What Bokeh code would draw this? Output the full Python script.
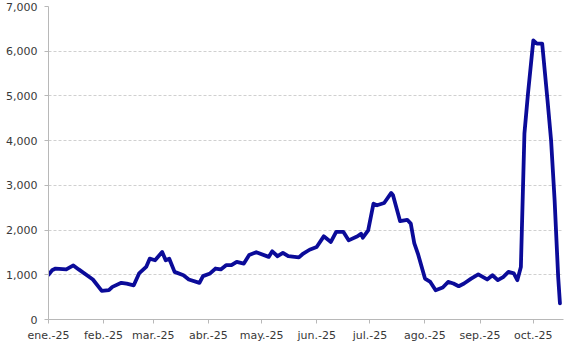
import pandas as pd
from bokeh.plotting import figure
from bokeh.models import FixedTicker, Range1d, NumeralTickFormatter
from bokeh.embed import file_html
from bokeh.resources import INLINE

dates = [
    "2025-01-01", "2025-01-03", "2025-01-05", "2025-01-11", "2025-01-15", "2025-01-18",
    "2025-01-26", "2025-01-31", "2025-02-04", "2025-02-06", "2025-02-11", "2025-02-14",
    "2025-02-18", "2025-02-21", "2025-02-25", "2025-02-27", "2025-03-02", "2025-03-06",
    "2025-03-08", "2025-03-10", "2025-03-13", "2025-03-18", "2025-03-21", "2025-03-27",
    "2025-03-29", "2025-04-02", "2025-04-05", "2025-04-08", "2025-04-11", "2025-04-14",
    "2025-04-17", "2025-04-21", "2025-04-24", "2025-04-28", "2025-05-05", "2025-05-07",
    "2025-05-10", "2025-05-13", "2025-05-16", "2025-05-22", "2025-05-24", "2025-05-28",
    "2025-06-01", "2025-06-05", "2025-06-09", "2025-06-12", "2025-06-16", "2025-06-19",
    "2025-06-24", "2025-06-26", "2025-06-27", "2025-06-30", "2025-07-03", "2025-07-05",
    "2025-07-09", "2025-07-13", "2025-07-14", "2025-07-18", "2025-07-22", "2025-07-24",
    "2025-07-26", "2025-07-28", "2025-08-01", "2025-08-04", "2025-08-07", "2025-08-11",
    "2025-08-14", "2025-08-17", "2025-08-20", "2025-08-23", "2025-08-27", "2025-08-31",
    "2025-09-05", "2025-09-08", "2025-09-11", "2025-09-14", "2025-09-17", "2025-09-20",
    "2025-09-22", "2025-09-24", "2025-09-26", "2025-09-28", "2025-10-01", "2025-10-03",
    "2025-10-06", "2025-10-09", "2025-10-11", "2025-10-13", "2025-10-15", "2025-10-16",
]
values = [
    1000, 1100, 1140, 1120, 1210, 1120,
    895, 640, 655, 730, 820, 800,
    765, 1030, 1175, 1360, 1325, 1510,
    1325, 1360, 1065, 990, 895, 820,
    970, 1030, 1140, 1120, 1215, 1215,
    1290, 1250, 1440, 1505, 1400, 1525,
    1415, 1490, 1415, 1390, 1460, 1560,
    1620, 1860, 1735, 1960, 1960, 1770,
    1860, 1920, 1830, 1995, 2590, 2555,
    2605, 2830, 2780, 2200, 2230, 2145,
    1700, 1475, 915, 840, 655, 715,
    840, 805, 745, 805, 915, 1010,
    895, 990, 880, 950, 1065, 1030,
    880, 1175, 4160, 5050, 6240, 6170,
    6170, 4900, 4010, 2665, 950, 360,
]
month_starts = ["2025-01-01", "2025-02-01", "2025-03-01", "2025-04-01", "2025-05-01",
                "2025-06-01", "2025-07-01", "2025-08-01", "2025-09-01", "2025-10-01"]
month_labels = ["ene.-25", "feb.-25", "mar.-25", "abr.-25", "may.-25",
                "jun.-25", "jul.-25", "ago.-25", "sep.-25", "oct.-25"]
y_ticks = [0, 1000, 2000, 3000, 4000, 5000, 6000, 7000]

base = pd.Timestamp("2025-01-01")
x = [(pd.Timestamp(d) - base).days for d in dates]
tick_x = [(pd.Timestamp(d) - base).days for d in month_starts]

p = figure(width=567, height=346, output_backend="svg", toolbar_location=None,
           frame_width=515, frame_height=313,
           min_border_left=48, min_border_right=4, min_border_top=6, min_border_bottom=27,
           x_range=Range1d(0, 290), y_range=Range1d(0, 7000))
p.outline_line_color = None
p.background_fill_color = "white"
p.border_fill_color = "white"

p.line(x, values, line_color="#0B0B99", line_width=3.8, line_join="round", line_cap="round")

p.xaxis.ticker = FixedTicker(ticks=tick_x)
p.xaxis.major_label_overrides = {t: l for t, l in zip(tick_x, month_labels)}
p.yaxis.ticker = FixedTicker(ticks=y_ticks)
p.yaxis.formatter = NumeralTickFormatter(format="0,0")

for ax in (p.xaxis[0], p.yaxis[0]):
    ax.axis_line_color = "#B8B8B8"
    ax.axis_line_width = 1
    ax.major_tick_line_color = "#B8B8B8"
    ax.major_tick_out = 4
    ax.major_tick_in = 0
    ax.minor_tick_line_color = None
    ax.major_label_text_font = "DejaVu Sans"
    ax.major_label_text_font_size = "11px"
    ax.major_label_text_color = "#383838"
p.xaxis.major_label_standoff = 5
p.yaxis.major_label_standoff = 7

p.xgrid.grid_line_color = None
p.ygrid.grid_line_color = "#D0D0D0"
p.ygrid.grid_line_dash = "3 2"
p.ygrid.grid_line_width = 1

open("out.html", "w").write(file_html(p, INLINE))
